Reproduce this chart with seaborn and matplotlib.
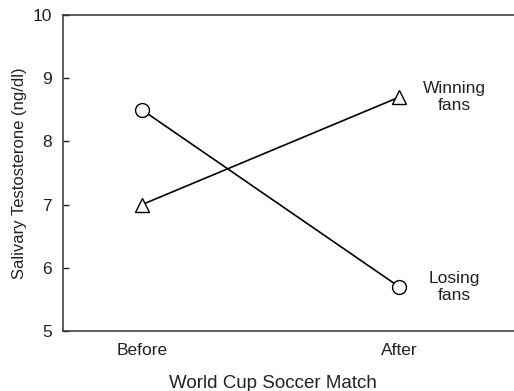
import matplotlib
matplotlib.use("Agg")
import matplotlib.pyplot as plt
import seaborn as sns
import pandas as pd

phases = ["Before", "After"]
winning = [7.0, 8.7]
losing = [8.5, 5.7]
group_names = ["Winning\nfans", "Losing\nfans"]

sns.set_theme(style="ticks")
plt.rcParams["font.family"] = ["Liberation Sans", "DejaVu Sans"]

rows = []
for name, vals in zip(group_names, [winning, losing]):
    for i, v in enumerate(vals):
        rows.append({"pos": i, "value": v, "group": name})
df = pd.DataFrame(rows)

fig = plt.figure(figsize=(5.14, 3.91), dpi=100)
ax = fig.add_axes([0.1226, 0.1535, 0.8774, 0.808])

sns.lineplot(
    data=df, x="pos", y="value", style="group", hue="group",
    palette={group_names[0]: "black", group_names[1]: "black"},
    markers={group_names[0]: "^", group_names[1]: "o"},
    dashes=False, linewidth=1.2, markersize=10, markerfacecolor="white",
    markeredgecolor="black", markeredgewidth=1.0, legend=False, ax=ax,
)

ax.set_xlim(-0.307, 1.447)
ax.set_ylim(5, 10)
ax.set_xticks(range(len(phases)))
ax.set_xticklabels(phases)
ax.set_yticks([5, 6, 7, 8, 9, 10])

ax.tick_params(axis="y", direction="in", length=4, width=1.0, pad=8,
               labelsize=12.5, colors="#222222")
ax.tick_params(axis="x", length=0, pad=9, labelsize=12.5, colors="#222222")

for side in ["left", "top", "bottom"]:
    ax.spines[side].set_linewidth(1.1)
    ax.spines[side].set_color("#333333")
ax.spines["right"].set_visible(False)

ax.set_ylabel("Salivary Testosterone (ng/dl)", fontsize=12, color="#222222")
ax.yaxis.set_label_coords(-0.08, 0.5)
ax.set_xlabel("World Cup Soccer Match", fontsize=13.5, color="#222222")
ax.xaxis.set_label_coords(0.466, -0.139)

# End-of-line group labels
for name, vals in zip(group_names, [winning, losing]):
    ax.text(1.0 + 0.215, vals[-1], name, ha="center", va="center",
            fontsize=12.5, color="#222222", linespacing=1.15)

fig.savefig("out.png", dpi=100)
